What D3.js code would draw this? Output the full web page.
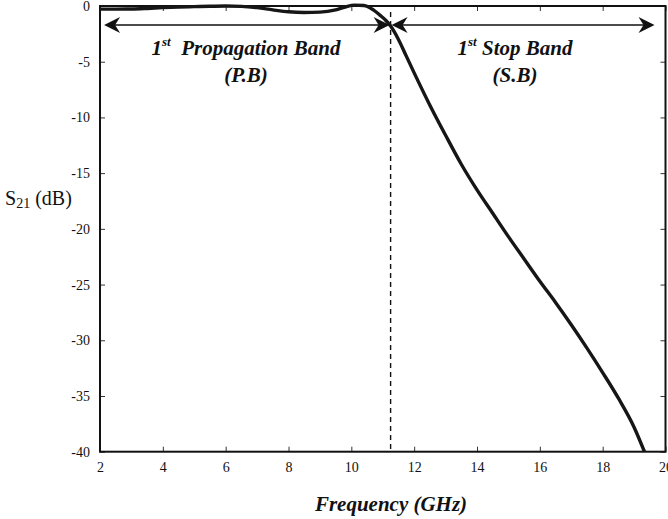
<!DOCTYPE html>
<html>
<head>
<meta charset="utf-8">
<script src="https://cdn.jsdelivr.net/npm/d3@7/dist/d3.min.js"></script>
<style>
  html, body { margin: 0; padding: 0; background: #fff; }
  svg { display: block; }
  text { font-family: "Liberation Serif", "Times New Roman", serif; fill: #111; }
</style>
</head>
<body>
<svg id="chart" width="668" height="519"></svg>
<script>
// Transmission response of the filter: frequency (GHz) vs S21 (dB)
const freq = [2, 2.5, 3, 3.5, 4, 4.5, 5, 5.5, 6, 6.5, 7, 7.5, 8, 8.5, 9, 9.5, 9.8, 10.1, 10.4, 10.7, 10.9, 11.1, 11.25, 11.5, 11.75, 12, 12.5, 13, 13.5, 14, 14.5, 15, 15.5, 16, 16.5, 17, 17.5, 18, 18.5, 19, 19.33];
const s21  = [-0.28, -0.28, -0.27, -0.22, -0.15, -0.1, -0.06, -0.02, 0, -0.03, -0.15, -0.35, -0.52, -0.58, -0.55, -0.35, -0.1, 0.08, 0.05, -0.35, -0.8, -1.3, -1.8, -3.0, -4.5, -6.0, -8.9, -11.6, -14.2, -16.5, -18.6, -20.7, -22.7, -24.7, -26.6, -28.6, -30.7, -32.9, -35.2, -37.8, -40];

const xTicks = [2, 4, 6, 8, 10, 12, 14, 16, 18, 20];
const yTicks = [0, -5, -10, -15, -20, -25, -30, -35, -40];

// Band edge (GHz) separating the propagation and stop bands
const bandEdge = [11.25];

const svg = d3.select("#chart");
const L = 100, R = 665.5, T = 6, B = 451.7;
const serif = '"Liberation Serif", "Times New Roman", serif';

const x = d3.scaleLinear().domain([2, 20]).range([L, R]);
const y = d3.scaleLinear().domain([-40, 0]).range([B, T]);

const tickLen = 5;

// axes: ticks pointing inward on all four sides
const axBottom = svg.append("g").attr("transform", `translate(0,${B})`)
  .call(d3.axisBottom(x).tickValues(xTicks).tickSizeInner(-tickLen).tickSizeOuter(0).tickPadding(10));
const axTop = svg.append("g").attr("transform", `translate(0,${T})`)
  .call(d3.axisTop(x).tickValues(xTicks).tickSizeInner(-tickLen).tickSizeOuter(0).tickFormat(""));
const axLeft = svg.append("g").attr("transform", `translate(${L},0)`)
  .call(d3.axisLeft(y).tickValues(yTicks).tickSizeInner(-tickLen).tickSizeOuter(0).tickPadding(10).tickFormat(d3.format("d")));
const axRight = svg.append("g").attr("transform", `translate(${R},0)`)
  .call(d3.axisRight(y).tickValues(yTicks).tickSizeInner(-tickLen).tickSizeOuter(0).tickFormat(""));

[axBottom, axTop, axLeft, axRight].forEach(g => {
  g.attr("font-family", serif);
  g.select(".domain").remove();
  g.selectAll(".tick line").attr("stroke", "#333").attr("stroke-width", 1);
  g.selectAll(".tick text")
    .style("font-family", serif)
    .attr("font-size", 14)
    .attr("fill", "#111");
});
// plain hyphen-minus for negative tick labels
axLeft.selectAll(".tick text").text(d => String(d));

// frame
svg.append("rect")
  .attr("x", L).attr("y", T).attr("width", R - L).attr("height", B - T)
  .attr("fill", "none").attr("stroke", "#111").attr("stroke-width", 2);

// band edge marker
svg.selectAll(".edge").data(bandEdge).enter().append("line")
  .attr("class", "edge")
  .attr("x1", d => x(d)).attr("x2", d => x(d))
  .attr("y1", T + 6).attr("y2", B)
  .attr("stroke", "#111").attr("stroke-width", 1.4)
  .attr("stroke-dasharray", "5,4");

// S21 curve
const pts = freq.map((f, i) => [f, s21[i]]);
svg.append("path")
  .datum(pts)
  .attr("fill", "none")
  .attr("stroke", "#161616")
  .attr("stroke-width", 3.4)
  .attr("stroke-linejoin", "round")
  .attr("d", d3.line().x(d => x(d[0])).y(d => y(d[1])).curve(d3.curveMonotoneX));

// double-headed band arrows
const arrowY = 25;
function arrowHead(tipX, dir) {
  // dir = -1 points left, +1 points right
  const len = 16, half = 8, notch = 5;
  const p = [
    [tipX, arrowY],
    [tipX - dir * len, arrowY - half],
    [tipX - dir * (len - notch), arrowY],
    [tipX - dir * len, arrowY + half]
  ];
  svg.append("path").attr("d", "M" + p.map(q => q.join(",")).join("L") + "Z").attr("fill", "#111");
}
function bandArrow(x1, x2) {
  svg.append("line").attr("x1", x1 + 8).attr("x2", x2 - 8)
    .attr("y1", arrowY).attr("y2", arrowY)
    .attr("stroke", "#111").attr("stroke-width", 1.5);
  arrowHead(x1, -1);
  arrowHead(x2, 1);
}
const edgeX = x(bandEdge[0]);
bandArrow(x(2.13), edgeX - 1);
bandArrow(edgeX + 1, x(19.65));

// band labels
function bandLabel(cx, lines) {
  const t1 = svg.append("text").attr("x", cx).attr("y", 55)
    .attr("text-anchor", "middle").attr("font-size", 21)
    .attr("font-weight", "bold").attr("font-style", "italic");
  t1.append("tspan").text("1");
  t1.append("tspan").attr("font-size", 13).attr("dy", -9).text("st");
  t1.append("tspan").attr("dy", 9).text(lines[0]);
  svg.append("text").attr("x", cx).attr("y", 82)
    .attr("text-anchor", "middle").attr("font-size", 21)
    .attr("font-weight", "bold").attr("font-style", "italic")
    .text(lines[1]);
}
bandLabel(246, ["\u00a0 Propagation Band", "(P.B)"]);
bandLabel(515, [" Stop Band", "(S.B)"]);

// axis titles
svg.append("text").attr("x", 391).attr("y", 511)
  .attr("text-anchor", "middle").attr("font-size", 21)
  .attr("font-weight", "bold").attr("font-style", "italic")
  .text("Frequency (GHz)");

const yt = svg.append("text").attr("x", 5).attr("y", 205).attr("font-size", 20);
yt.append("tspan").text("S");
yt.append("tspan").attr("font-size", 14).attr("dy", 3).text("21");
yt.append("tspan").attr("dy", -3).text(" (dB)");
</script>
</body>
</html>
